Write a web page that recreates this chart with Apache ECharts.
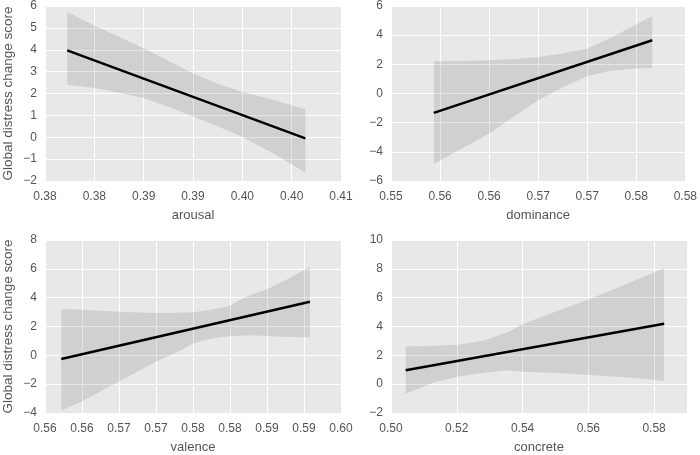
<!DOCTYPE html>
<html><head><meta charset="utf-8">
<script src="https://cdn.jsdelivr.net/npm/echarts@6/dist/echarts.min.js"></script>
<style>html,body{margin:0;padding:0;background:#fff}#c{width:700px;height:455px}</style>
</head><body><div id="c"></div>
<script>
// ---- data ----
const yName = 'Global distress change score';
const xNames = ['arousal', 'dominance', 'valence', 'concrete'];

// x tick labels (as printed in the reference)
const arousalTicks = ['0.38','0.38','0.39','0.39','0.40','0.40','0.41'];
const dominanceTicks = ['0.55','0.56','0.56','0.57','0.57','0.58','0.58'];
const valenceTicks = ['0.56','0.56','0.57','0.57','0.58','0.58','0.59','0.59','0.60'];
const concreteTicks = ['0.50','0.52','0.54','0.56','0.58'];

// y tick labels
const arousalYTicks = ['−2','−1','0','1','2','3','4','5','6'];
const dominanceYTicks = ['−6','−4','−2','0','2','4','6'];
const valenceYTicks = ['−4','−2','0','2','4','6','8'];
const concreteYTicks = ['−2','0','2','4','6','8','10'];

// regression lines: [x, y] endpoints
const arousalLine = [[0.37725, 3.97], [0.40139, -0.05]];
const dominanceLine = [[0.55436, -1.33], [0.57663, 3.65]];
const valenceLine = [[0.55720, -0.26], [0.59080, 3.72]];
const concreteLine = [[0.50447, 0.97], [0.58305, 4.19]];

// confidence bands
const arousalBandX = [0.37725, 0.380, 0.38250, 0.38496, 0.38750, 0.3900, 0.3925, 0.3949, 0.3981, 0.40139];
const arousalUpper = [5.73, 5.11, 4.60, 4.08, 3.50, 2.93, 2.45, 2.09, 1.71, 1.28];
const arousalLower = [2.40, 2.25, 2.03, 1.79, 1.40, 0.95, 0.50, 0.03, -0.73, -1.62];

const dominanceBandX = [0.55436, 0.55663, 0.56002, 0.56273, 0.56503, 0.56747, 0.57002, 0.57222, 0.57500, 0.57663];
const dominanceUpper = [2.21, 2.23, 2.28, 2.37, 2.51, 2.74, 3.08, 3.76, 4.74, 5.32];
const dominanceLower = [-4.84, -4.00, -2.74, -1.49, -0.46, 0.41, 1.18, 1.55, 1.71, 1.75];

const valenceBandX = [0.55720, 0.560, 0.565, 0.570, 0.57298, 0.575, 0.57746, 0.580, 0.58193, 0.58283, 0.585, 0.5873, 0.59080];
const valenceUpper = [3.21, 3.17, 3.03, 2.94, 2.96, 2.99, 3.17, 3.44, 4.01, 4.20, 4.58, 5.16, 6.14];
const valenceLower = [-3.82, -3.18, -1.81, -0.44, 0.25, 0.82, 1.16, 1.32, 1.37, 1.39, 1.34, 1.29, 1.23];

const concreteBandX = [0.50447, 0.51299, 0.52010, 0.52822, 0.53533, 0.54010, 0.54853, 0.56020, 0.56883, 0.57594, 0.58305];
const concreteUpper = [2.62, 2.66, 2.73, 3.03, 3.60, 4.17, 4.90, 5.89, 6.69, 7.37, 8.06];
const concreteLower = [-0.67, 0.11, 0.51, 0.79, 0.97, 0.86, 0.79, 0.63, 0.51, 0.40, 0.22];

// ---- chart ----
const panels = [
  {x: arousalTicks, y: arousalYTicks, xmin: 0.375, xmax: 0.405, xint: 0.005, ymin: -2, ymax: 6, yint: 1,
   line: arousalLine, bx: arousalBandX, bu: arousalUpper, bl: arousalLower, left: 45, top: 6, yname: true},
  {x: dominanceTicks, y: dominanceYTicks, xmin: 0.55, xmax: 0.58, xint: 0.005, ymin: -6, ymax: 6, yint: 2,
   line: dominanceLine, bx: dominanceBandX, bu: dominanceUpper, bl: dominanceLower, left: 391, top: 6, yname: false},
  {x: valenceTicks, y: valenceYTicks, xmin: 0.555, xmax: 0.595, xint: 0.005, ymin: -4, ymax: 8, yint: 2,
   line: valenceLine, bx: valenceBandX, bu: valenceUpper, bl: valenceLower, left: 45, top: 240, yname: true},
  {x: concreteTicks, y: concreteYTicks, xmin: 0.50, xmax: 0.59, xint: 0.02, ymin: -2, ymax: 10, yint: 2,
   line: concreteLine, bx: concreteBandX, bu: concreteUpper, bl: concreteLower, left: 391, top: 240, yname: false}
];

const font = '"Liberation Sans", Arial, Helvetica, sans-serif';
const textColor = '#555555';
const grid = [], xAxis = [], yAxis = [], series = [];

panels.forEach((p, i) => {
  grid.push({left: p.left, top: p.top, width: 296, height: 175, show: true,
    backgroundColor: '#E8E8E8', borderWidth: 0});
  xAxis.push({type: 'value', gridIndex: i, min: p.xmin, max: p.xmax, interval: p.xint,
    name: xNames[i], nameLocation: 'middle', nameGap: 28,
    nameTextStyle: {color: textColor, fontSize: 13, fontFamily: font},
    axisLine: {show: false}, axisTick: {show: false},
    splitLine: {show: true, lineStyle: {color: '#FFFFFF', width: 1}},
    axisLabel: {color: textColor, fontSize: 12, fontFamily: font, margin: 10, showMaxLabel: true,
      formatter: v => { const k = Math.round((v - p.xmin) / p.xint); return (k >= 0 && k < p.x.length && Math.abs(v - (p.xmin + k * p.xint)) < p.xint * 0.01) ? p.x[k] : ''; }}
  });
  yAxis.push({type: 'value', gridIndex: i, min: p.ymin, max: p.ymax, interval: p.yint,
    name: p.yname ? yName : '', nameLocation: 'middle', nameGap: 30,
    nameTextStyle: {color: textColor, fontSize: 13.5, fontFamily: font},
    axisLine: {show: false}, axisTick: {show: false},
    splitLine: {show: true, lineStyle: {color: '#FFFFFF', width: 1}},
    axisLabel: {color: textColor, fontSize: 12, fontFamily: font, margin: 8,
      formatter: v => { const k = Math.round((v - p.ymin) / p.yint); return p.y[k] !== undefined ? p.y[k] : ''; }}
  });
  const bandData = p.bx.map((x, j) => [x, p.bl[j], p.bu[j]]);
  series.push({
    type: 'custom', xAxisIndex: i, yAxisIndex: i, silent: true, z: 2,
    encode: {x: 0, y: [1, 2]},
    data: bandData,
    renderItem: (params, api) => {
      if (params.dataIndex !== 0) return null;
      const pts = [];
      for (let j = 0; j < p.bx.length; j++) pts.push(api.coord([p.bx[j], p.bu[j]]));
      for (let j = p.bx.length - 1; j >= 0; j--) pts.push(api.coord([p.bx[j], p.bl[j]]));
      return {type: 'polygon', shape: {points: pts}, style: {fill: 'rgba(0,0,0,0.1)', stroke: null}};
    }
  });
  series.push({type: 'line', xAxisIndex: i, yAxisIndex: i, data: p.line, symbol: 'none', z: 3,
    lineStyle: {color: '#000000', width: 2.5}, silent: true, animation: false});
});

const chart = echarts.init(document.getElementById('c'), null, {renderer: 'canvas'});
chart.setOption({animation: false, grid, xAxis, yAxis, series});
</script>
</body></html>
